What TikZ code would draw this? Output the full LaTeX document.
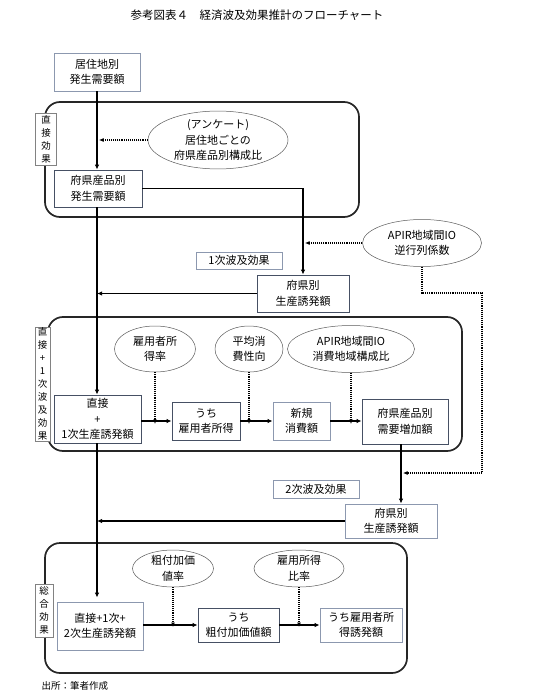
\documentclass[tikz,border=0pt]{standalone}
\usepackage{fontspec}
\setmainfont{Noto Sans CJK JP}
\usetikzlibrary{arrows.meta,shapes.geometric}
\definecolor{lightb}{RGB}{140,152,175}
\definecolor{darkb}{RGB}{70,80,100}
\definecolor{labc}{RGB}{130,130,130}
\definecolor{ellc}{RGB}{90,90,90}
\begin{document}
\begin{tikzpicture}[x=1pt,y=-1pt,
  txt/.style={font=\fontsize{11}{15.5}\selectfont, align=center},
  bx/.style={txt, draw=#1, line width=0.8pt, fill=white, inner sep=0pt},
  bx/.default=darkb,
  lab/.style={draw=labc, line width=0.7pt, fill=white, inner sep=0pt, align=center, font=\fontsize{9.5}{13}\selectfont},
  ell/.style={txt, ellipse, draw=ellc, line width=0.5pt, inner sep=0pt},
  rbox/.style={draw=black!85, line width=1.7pt, rounded corners=15pt},
  arr/.style={line width=1.5pt, -{Latex[length=5pt,width=4.5pt]}},
  darr/.style={line width=1.1pt, densely dotted, -{Latex[length=4.5pt,width=4pt]}},
  dln/.style={line width=1.1pt, densely dotted}
]
\useasboundingbox (0,0) rectangle (535,698);

% title
\node[font=\fontsize{11.5}{14}\selectfont] (title) at (257,15) {参考図表４　経済波及効果推計のフローチャート};

% rounded frames
\draw[rbox] (45,102) rectangle (359,217);
\draw[rbox] (48,317) rectangle (462,451);
\draw[rbox] (45,543) rectangle (407,673);

% main coordinates
\coordinate (mx) at (97,0);
\coordinate (c2) at (401,0);
\coordinate (d1) at (482,293);
\coordinate (d2) at (482,473);

% section 1
\node[bx=lightb, minimum width=86pt, minimum height=38pt] (B1) at (97,72) {居住地別\\発生需要額};
\node[lab, minimum width=21pt, minimum height=52pt] (L1) at (46,139) {直\\接\\効\\果};
\node[ell, minimum width=140pt, minimum height=57pt] (E1) at (218,140) {(アンケート)\\居住地ごとの\\府県産品別構成比};
\node[bx, minimum width=88pt, minimum height=37pt] (B2) at (98,188.5) {府県産品別\\発生需要額};

\draw[arr] (B1.south -| mx) -- (B2.north -| mx);
\draw[darr] (E1.west) -- ([xshift=2pt]E1.west -| mx);

% 1st ripple
\node[bx=darkb, minimum width=92pt, minimum height=37pt] (B3) at (303,293.5) {府県別\\生産誘発額};
\node[ell, minimum width=119pt, minimum height=47pt] (E2) at (422,243) {APIR地域間IO\\逆行列係数};
\node[bx=lightb, minimum width=86pt, minimum height=17pt] (T1) at (239,260.5) {1次波及効果};

\draw[arr] (B2.east) -| (B3.north);
\draw[darr] (E2.west) -- ([xshift=2pt]E2.west -| B3.north);
\draw[arr] (B3.west) -- (B3.west -| mx);

% section 2
\node[lab, minimum width=15pt, minimum height=114pt] (L2) at (42.5,384) {直\\接\\+\\1\\次\\波\\及\\効\\果};
\node[bx, minimum width=87pt, minimum height=48pt] (B4) at (97.5,419) {直接\\+\\1次生産誘発額};
\node[ell, minimum width=81pt, minimum height=46pt] (E3) at (155,349) {雇用者所\\得率};
\node[ell, minimum width=68pt, minimum height=46pt] (E4) at (249,349) {平均消\\費性向};
\node[ell, minimum width=127pt, minimum height=47pt] (E5) at (351,349) {APIR地域間IO\\消費地域構成比};
\node[bx, minimum width=68pt, minimum height=38pt] (B5) at (206,421) {うち\\雇用者所得};
\node[bx=lightb, minimum width=57pt, minimum height=38pt] (B6) at (301.5,421) {新規\\消費額};
\node[bx, minimum width=86pt, minimum height=45pt] (B7) at (405,421.5) {府県産品別\\需要増加額};

\draw[arr] (B2.south -| mx) -- (B4.north -| mx);
\draw[arr] (B4.east |- B5.west) -- (B5.west);
\draw[arr] (B5.east) -- (B6.west);
\draw[arr] (B6.east) -- (B6.east -| B7.west);
\draw[darr] (E3.south) -- ([yshift=-3pt]E3.south |- B5.west);
\draw[darr] (E4.south) -- ([yshift=-3pt]E4.south |- B5.west);
\draw[darr] (E5.south) -- ([yshift=-3pt]E5.south |- B6.east);

% 2nd ripple
\node[bx=lightb, minimum width=92pt, minimum height=34pt] (B8) at (391,521) {府県別\\生産誘発額};
\node[bx=lightb, minimum width=86pt, minimum height=18pt] (T2) at (316,489) {2次波及効果};

\draw[arr] (B7.south -| c2) -- (B8.north -| c2);
\draw[dln] (E2.south) |- (d1) -- (d2);
\draw[darr] (d2) -- ([xshift=2pt]d2 -| c2);
\draw[arr] (B8.west) -- (B8.west -| mx);

% section 3
\node[lab, minimum width=18pt, minimum height=53pt] (L3) at (44,610.5) {総\\合\\効\\果};
\node[bx=lightb, minimum width=86pt, minimum height=48pt] (B9) at (100,626) {直接+1次+\\2次生産誘発額};
\node[ell, minimum width=81pt, minimum height=37pt] (E6) at (173,568.5) {粗付加価\\値率};
\node[ell, minimum width=90pt, minimum height=37pt] (E7) at (299,568.5) {雇用所得\\比率};
\node[bx=darkb, minimum width=81pt, minimum height=34pt] (B10) at (238.5,625) {うち\\粗付加価値額};
\node[bx=lightb, minimum width=82pt, minimum height=34pt] (B11) at (361,625) {うち雇用者所\\得誘発額};

\draw[arr, shorten >=4pt] (B4.south -| mx) -- (B9.north -| mx);
\draw[arr] (B9.east |- B10.west) -- (B10.west);
\draw[arr] (B10.east) -- (B11.west);
\draw[darr] (E6.south) -- ([yshift=-2pt]E6.south |- B10.west);
\draw[darr] (E7.south) -- ([yshift=-2pt]E7.south |- B11.west);

% footer
\node[font=\fontsize{9.5}{12}\selectfont, anchor=west] (src) at (38,686) {出所：筆者作成};
\end{tikzpicture}
\end{document}
